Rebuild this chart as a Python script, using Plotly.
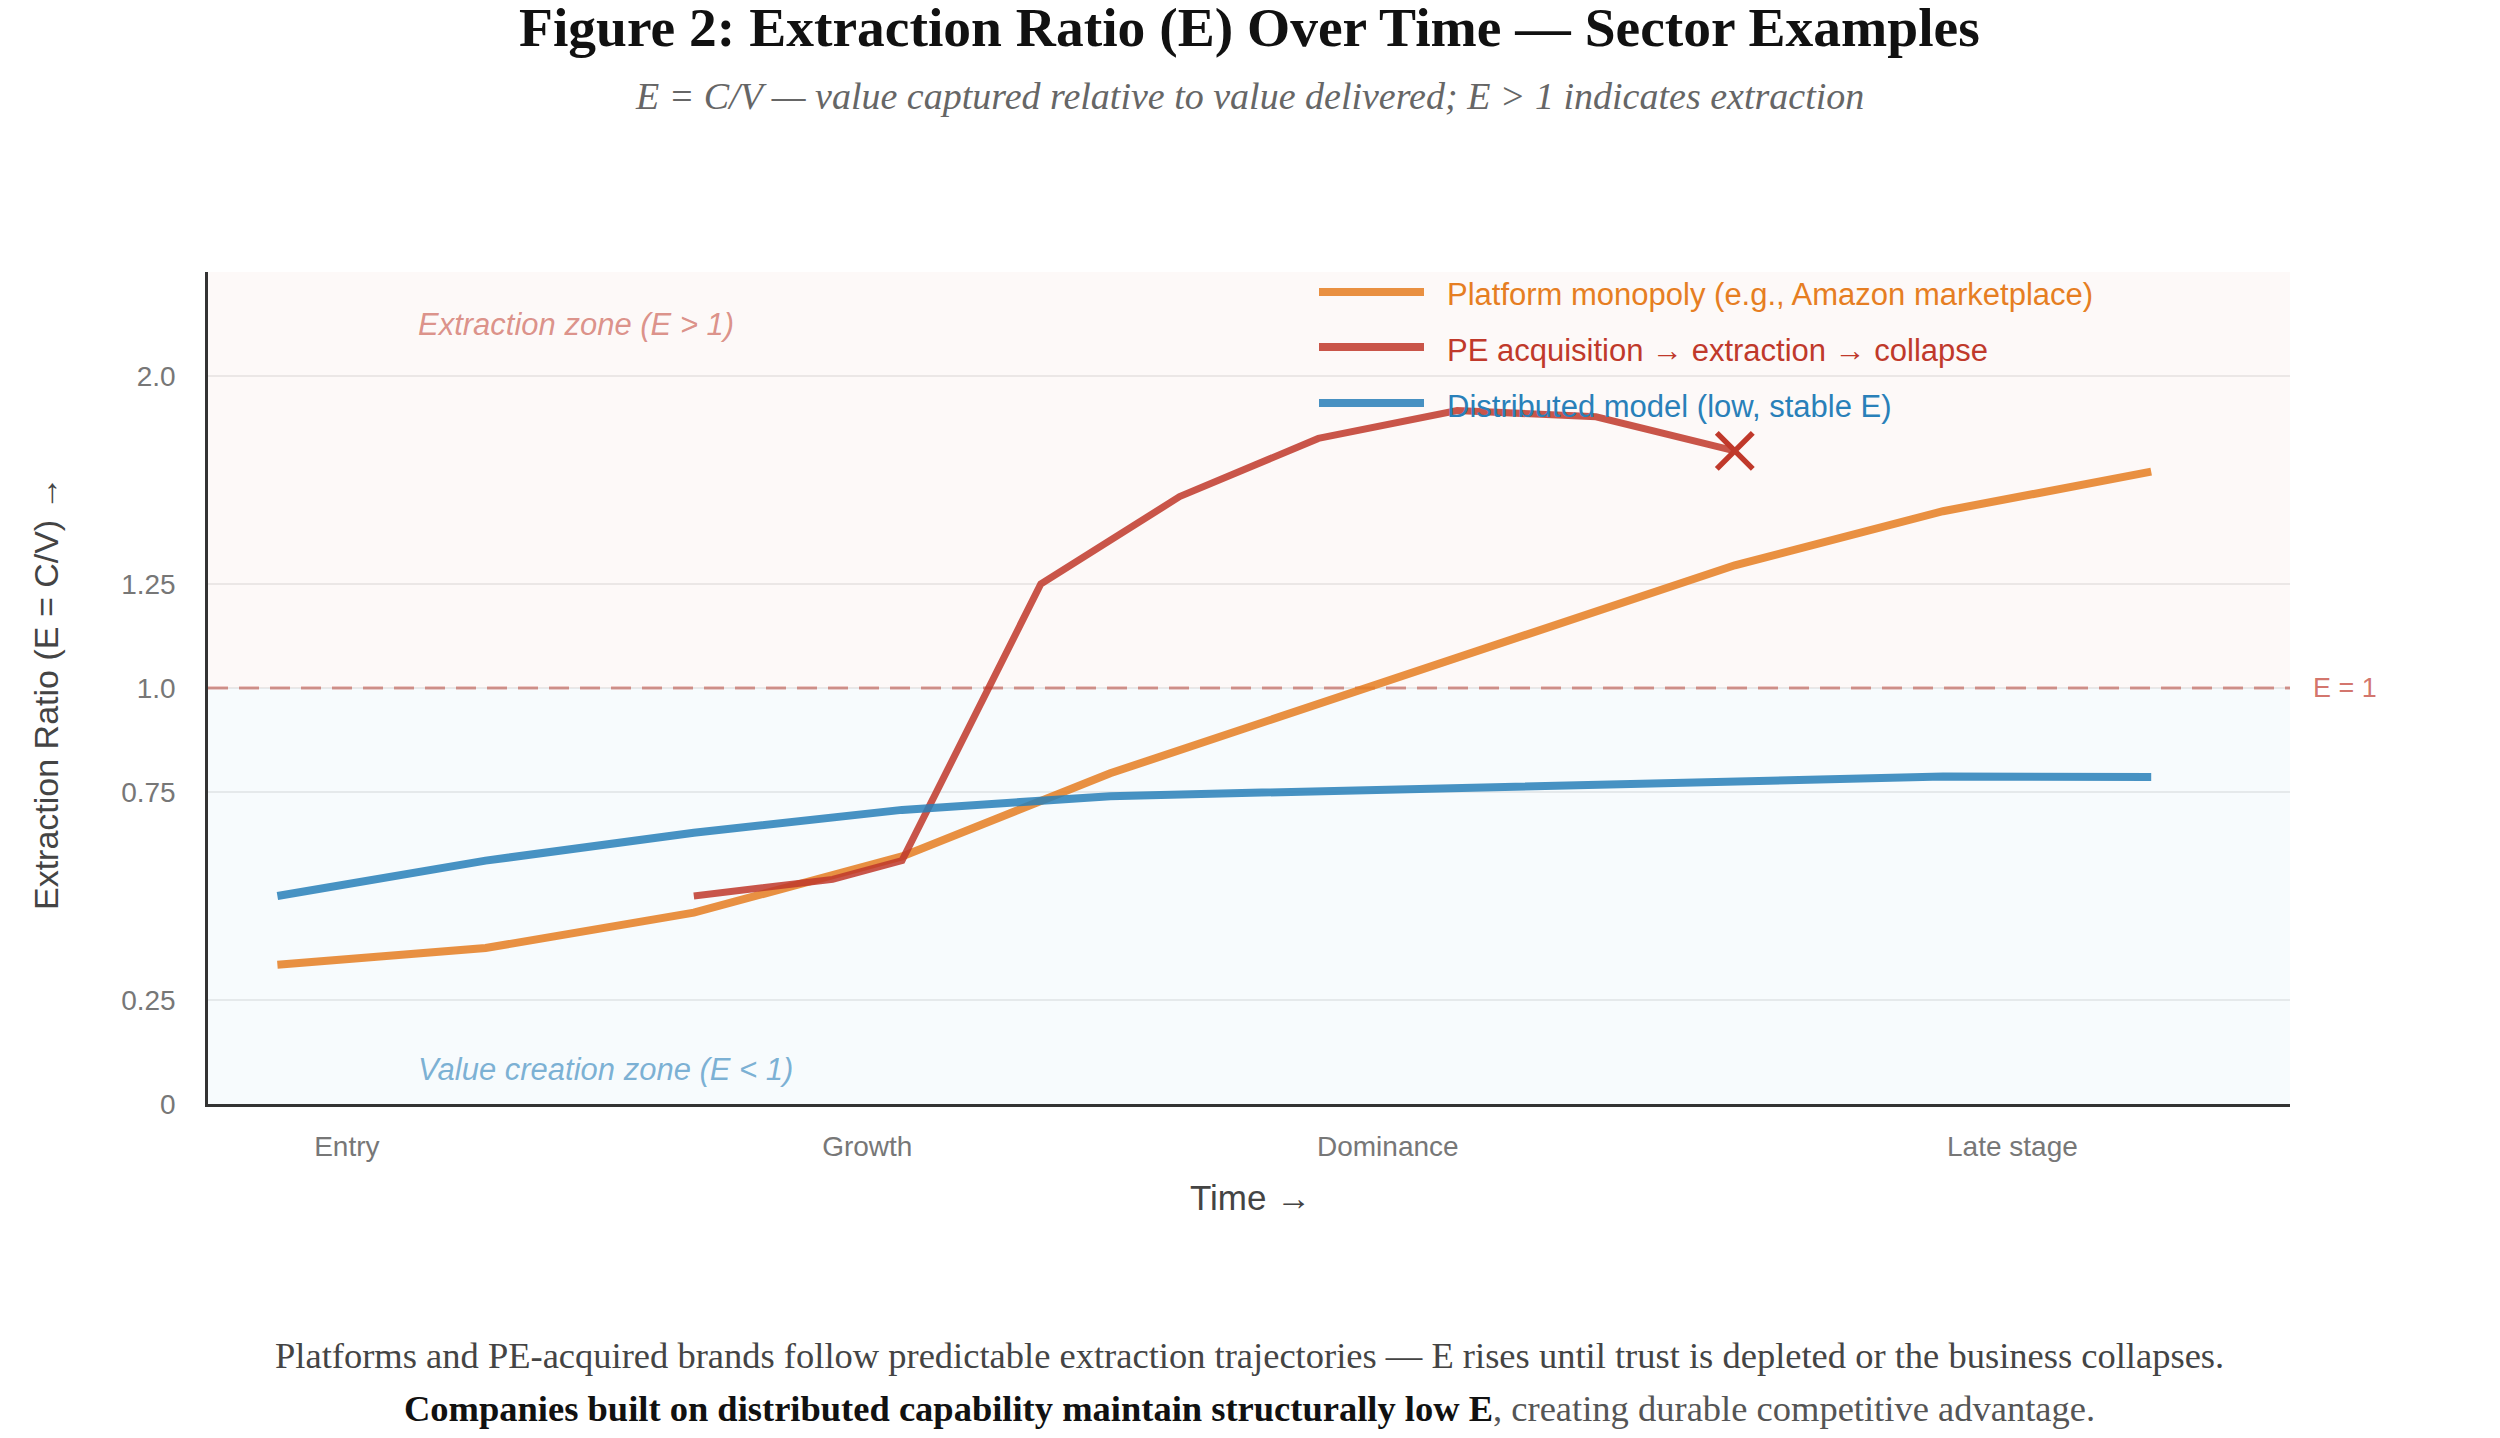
import plotly.graph_objects as go

# ---------------- data ----------------
time_platform = [0, 3, 6, 9, 12, 15, 18, 21, 24, 27]
e_platform = [0.335, 0.375, 0.46, 0.595, 0.795, 0.96, 1.13, 1.295, 1.425, 1.52]

time_pe = [6, 8, 9, 11, 13, 15, 17, 19, 21]
e_pe = [0.50, 0.54, 0.585, 1.25, 1.46, 1.60, 1.667, 1.652, 1.57]

time_dist = [0, 3, 6, 9, 12, 15, 18, 21, 24, 27]
e_dist = [0.50, 0.585, 0.652, 0.707, 0.74, 0.752, 0.765, 0.776, 0.787, 0.786]

stage_pos = [1, 8.5, 16, 25]
stage_labels = ["Entry", "Growth", "Dominance", "Late stage"]

ytick_vals = [0, 0.25, 0.75, 1.0, 1.25, 1.75]
ytick_text = ["0", "0.25", "0.75", "1.0", "1.25", "2.0"]

series_names = ["Platform monopoly (e.g., Amazon marketplace)",
                "PE acquisition \u2192 extraction \u2192 collapse",
                "Distributed model (low, stable E)"]
line_colors = ["#e67e22", "#c0392b", "#2980b9"]
text_colors = ["#e67e22", "#c0392b", "#2980b9"]

# ---------------- layout geometry (window pixels; page body has 8px margin) ----------------
OFF = 8
W, H = 2500 - 2 * OFF, 1438 - 2 * OFF
PL, PR, PT, PB = 208, 2290, 272, 1104          # plot box in window pixels
ML, MT = PL - OFF, PT - OFF
MR = W - (PR - OFF)
MB = H - (PB - OFF)
PW, PH = PR - PL, PB - PT


def px(p):
    return (p - PL) / PW


def py(p):
    return (PB - p) / PH


SANS = "Liberation Sans, Arial, sans-serif"
SERIF = "Liberation Serif, Times New Roman, serif"

fig = go.Figure()

fig.add_trace(go.Scatter(x=time_platform, y=e_platform, mode="lines",
                         name=series_names[0], opacity=0.85,
                         line=dict(color=line_colors[0], width=8), showlegend=False))
fig.add_trace(go.Scatter(x=time_pe, y=e_pe, mode="lines",
                         name=series_names[1], opacity=0.85,
                         line=dict(color=line_colors[1], width=7), showlegend=False))
fig.add_trace(go.Scatter(x=time_dist, y=e_dist, mode="lines",
                         name=series_names[2], opacity=0.85,
                         line=dict(color=line_colors[2], width=8), showlegend=False))
# collapse marker at the end of the PE series
fig.add_trace(go.Scatter(x=[time_pe[-1]], y=[e_pe[-1]], mode="markers",
                         marker=dict(symbol="x-thin", size=36, color="#c0392b",
                                     line=dict(color="#c0392b", width=5.5)),
                         showlegend=False, hoverinfo="skip"))

shapes = [
    dict(type="rect", xref="paper", yref="y", x0=0, x1=1, y0=1, y1=2,
         fillcolor="rgba(192,57,43,0.03)", line=dict(width=0), layer="below"),
    dict(type="rect", xref="paper", yref="y", x0=0, x1=1, y0=0, y1=1,
         fillcolor="rgba(41,128,185,0.035)", line=dict(width=0), layer="below"),
    dict(type="line", xref="paper", yref="y", x0=0, x1=1, y0=1, y1=1,
         line=dict(color="rgba(192,57,43,0.5)", width=3, dash="20px,11px"), layer="between"),
]

annotations = [
    dict(text="<b>Figure 2: Extraction Ratio (E) Over Time \u2014 Sector Examples</b>",
         xref="paper", yref="paper", x=0.5, y=py(28), xanchor="center", yanchor="middle",
         showarrow=False, font=dict(family=SERIF, size=55.5, color="#111111")),
    dict(text="<i>E = C/V \u2014 value captured relative to value delivered; E > 1 indicates extraction</i>",
         xref="paper", yref="paper", x=0.5, y=py(96), xanchor="center", yanchor="middle",
         showarrow=False, font=dict(family=SERIF, size=38, color="#666666")),
    dict(text="Extraction Ratio (E = C/V) \u2192", textangle=-90,
         xref="paper", yref="paper", x=px(46), y=py(693), xanchor="center", yanchor="middle",
         showarrow=False, font=dict(family=SANS, size=34, color="#444444")),
    dict(text="Time \u2192",
         xref="paper", yref="paper", x=px(1250), y=py(1197), xanchor="center", yanchor="middle",
         showarrow=False, font=dict(family=SANS, size=35, color="#444444")),
    dict(text="<i>Extraction zone (E > 1)</i>", xref="x", yref="y", x=2, y=1.875,
         xanchor="left", yanchor="middle", showarrow=False,
         font=dict(family=SANS, size=31, color="rgba(192,57,43,0.55)")),
    dict(text="<i>Value creation zone (E < 1)</i>", xref="x", yref="y", x=2, y=0.082,
         xanchor="left", yanchor="middle", showarrow=False,
         font=dict(family=SANS, size=31, color="rgba(41,128,185,0.6)")),
    dict(text="E = 1", xref="paper", yref="y", x=px(2311), y=1.0,
         xanchor="left", yanchor="middle", showarrow=False,
         font=dict(family=SANS, size=27, color="rgba(192,57,43,0.7)")),
    dict(text="Platforms and PE-acquired brands follow predictable extraction trajectories \u2014 "
              "E rises until trust is depleted or the business collapses.",
         xref="paper", yref="paper", x=0.5, y=py(1355), xanchor="center", yanchor="middle",
         showarrow=False, font=dict(family=SERIF, size=36.5, color="#444444")),
    dict(text="<b><span style='color:#111111'>Companies built on distributed capability maintain "
              "structurally low E</span></b>, creating durable competitive advantage.",
         xref="paper", yref="paper", x=0.5, y=py(1408), xanchor="center", yanchor="middle",
         showarrow=False, font=dict(family=SERIF, size=36.5, color="#555555")),
]

# manual legend (line samples + coloured labels)
legend_rows = [292, 347, 403]
for name, lc, tc, ry in zip(series_names, line_colors, text_colors, legend_rows):
    shapes.append(dict(type="line", xref="paper", yref="paper",
                       x0=px(1319), x1=px(1424), y0=py(ry), y1=py(ry),
                       line=dict(color=lc, width=8), opacity=0.85, layer="above"))
    annotations.append(dict(text=name, xref="paper", yref="paper", x=px(1445), y=py(ry + 3),
                            xanchor="left", yanchor="middle", showarrow=False,
                            font=dict(family=SANS, size=31, color=tc)))

fig.update_layout(
    width=W, height=H,
    margin=dict(l=ML, r=MR, t=MT, b=MB),
    paper_bgcolor="white", plot_bgcolor="white",
    shapes=shapes, annotations=annotations,
    showlegend=False,
    xaxis=dict(range=[-1, 29], tickvals=stage_pos, ticktext=stage_labels,
               showgrid=False, zeroline=False, ticks="",
               showline=True, linecolor="#333333", linewidth=2.5,
               tickfont=dict(family=SANS, size=28, color="#777777"),
               ticklabelstandoff=16),
    yaxis=dict(range=[0, 2], tickvals=ytick_vals, ticktext=ytick_text,
               showgrid=True, gridcolor="rgba(0,0,0,0.07)", gridwidth=2,
               zeroline=False, ticks="",
               showline=True, linecolor="#333333", linewidth=2.5,
               tickfont=dict(family=SANS, size=28, color="#777777"),
               ticklabelstandoff=24),
)

fig.write_html("out.html")
